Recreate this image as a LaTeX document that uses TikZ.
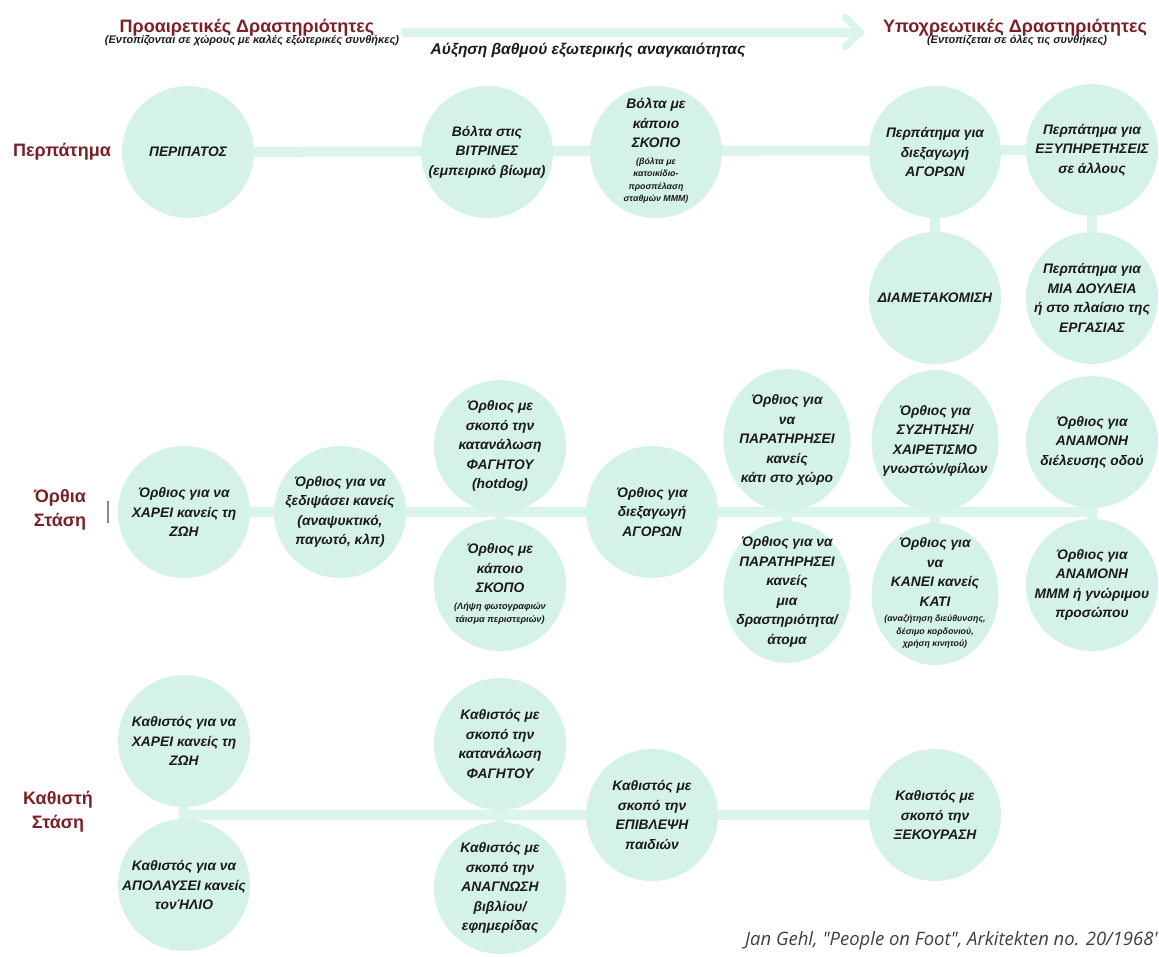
\documentclass[tikz,border=0pt]{standalone}
\usepackage{fontspec}
\setmainfont{Liberation Sans}
\newfontfamily\footfont{Open Sans}
\usetikzlibrary{shapes.geometric}
\definecolor{circ}{HTML}{D5F2EA}
\definecolor{conn}{HTML}{DCF4EE}
\definecolor{titlered}{HTML}{7B2027}
\definecolor{ink}{HTML}{1A1A1A}
\newcommand{\ctxt}[1]{\begin{tabular}[t]{@{}c@{}}#1\end{tabular}}
\newcommand{\smallfs}{\fontsize{8.8}{12.5}\selectfont}
\pgfdeclarelayer{bg}
\pgfsetlayers{bg,main}
\begin{document}
\begin{tikzpicture}[x=1pt,y=-1pt,
  bubble/.style={ellipse, fill=circ, minimum width=132pt, minimum height=132pt,
    inner sep=-20pt, align=center, text=ink,
    font=\fontsize{13.8}{19.5}\selectfont\bfseries\itshape},
  tall/.style={minimum width=127pt, minimum height=142pt},
  link/.style={draw=conn, line width=10pt},
  arrowline/.style={draw=conn, line width=9pt, line cap=round, line join=round},
  bigtitle/.style={anchor=base, text=titlered, font=\fontsize{18}{20}\selectfont\bfseries},
  subtitle/.style={anchor=base, text=ink, font=\fontsize{11}{12}\selectfont\bfseries\itshape},
  rowlabel/.style={align=center, text=titlered, font=\fontsize{18}{24}\selectfont\bfseries}]
\useasboundingbox (0,0) rectangle (1159,956);
\begin{pgfonlayer}{bg}
  \fill[white] (0,0) rectangle (1159,956);
\end{pgfonlayer}

% headers
\node[bigtitle] (t1) at (247,32) {Προαιρετικές Δραστηριότητες};
\node[subtitle] (s1) at (252,43) {(Εντοπίζονται σε χώρους με καλές εξωτερικές συνθήκες)};
\node[bigtitle] (t2) at (1015,32) {Υποχρεωτικές Δραστηριότητες};
\node[subtitle] (s2) at (1017,43) {(Εντοπίζεται σε όλες τις συνθήκες)};
\node[anchor=base, text=ink, font=\fontsize{15.5}{17}\selectfont\bfseries\itshape] (ax) at (588,54) {Αύξηση βαθμού εξωτερικής αναγκαιότητας};
\coordinate (ar1) at (405,32);
\coordinate (ar2) at (860,32);
\coordinate (ch1) at (845,17);
\coordinate (ch2) at (845,47);
\draw[arrowline] (ar1) -- (ar2);
\draw[arrowline, line width=7pt] (ch1) -- (ar2) -- (ch2);

% row labels
\node[rowlabel] (l1) at (62,152) {Περπάτημα};
\node[rowlabel] (l2) at (60,510) {Όρθια\\Στάση};
\node[rowlabel] (l3) at (58,812) {Καθιστή\\Στάση};
\draw[black!45, line width=1.5pt] (108,501) -- (108,523);

% row 1
\node[bubble] (r1a) at (188,152) {ΠΕΡΙΠΑΤΟΣ};
\node[bubble] (r1b) at (487,152) {Βόλτα στις\\ΒΙΤΡΙΝΕΣ\\(εμπειρικό βίωμα)};
\node[bubble] (r1c) at (656,152) {Βόλτα με\\κάποιο\\ΣΚΟΠΟ\\[-3pt]{\smallfs\ctxt{(βόλτα με\\κατοικίδιο-\\προσπέλαση\\σταθμών ΜΜΜ)}}};
\node[bubble] (r1d) at (935,152) {Περπάτημα για\\διεξαγωγή\\ΑΓΟΡΩΝ};
\node[bubble] (r1e) at (1092,150) {Περπάτημα για\\ΕΞΥΠΗΡΕΤΗΣΕΙΣ\\σε άλλους};
\node[bubble] (r1f) at (935,298) {ΔΙΑΜΕΤΑΚΟΜΙΣΗ};
\node[bubble] (r1g) at (1092,298) {Περπάτημα για\\ΜΙΑ ΔΟΥΛΕΙΑ\\ή στο πλαίσιο της\\ΕΡΓΑΣΙΑΣ};

% row 2
\node[bubble] (r2a) at (184,512) {Όρθιος για να\\ΧΑΡΕΙ κανείς τη\\ΖΩΗ};
\node[bubble] (r2b) at (340,512) {Όρθιος για να\\ξεδιψάσει κανείς\\(αναψυκτικό,\\παγωτό, κλπ)};
\node[bubble] (r2c) at (500,446) {Όρθιος με\\σκοπό την\\κατανάλωση\\ΦΑΓΗΤΟΥ\\(hotdog)};
\node[bubble] (r2d) at (500,585) {Όρθιος με\\κάποιο\\ΣΚΟΠΟ\\[-3pt]{\fontsize{9.2}{13}\selectfont\ctxt{(Λήψη φωτογραφιών\\τάισμα περιστεριών)}}};
\node[bubble] (r2e) at (652,512) {Όρθιος για\\διεξαγωγή\\ΑΓΟΡΩΝ};
\node[bubble, tall] (r2f) at (787,440) {Όρθιος για\\να\\ΠΑΡΑΤΗΡΗΣΕΙ\\κανείς\\κάτι στο χώρο};
\node[bubble, tall] (r2g) at (787,592) {Όρθιος για να\\ΠΑΡΑΤΗΡΗΣΕΙ\\κανείς\\μια\\δραστηριότητα/\\άτομα};
\node[bubble, tall] (r2h) at (935,441) {Όρθιος για\\ΣΥΖΗΤΗΣΗ/\\ΧΑΙΡΕΤΙΣΜΟ\\γνωστών/φίλων};
\node[bubble, tall] (r2i) at (935,594) {Όρθιος για\\να\\ΚΑΝΕΙ κανείς\\ΚΑΤΙ\\[-4pt]{\smallfs\ctxt{(αναζήτηση διεύθυνσης,\\δέσιμο κορδονιού,\\χρήση κινητού)}}};
\node[bubble] (r2j) at (1092,442) {Όρθιος για\\ΑΝΑΜΟΝΗ\\διέλευσης οδού};
\node[bubble] (r2k) at (1092,585) {Όρθιος για\\ΑΝΑΜΟΝΗ\\ΜΜΜ ή γνώριμου\\προσώπου};

% row 3
\node[bubble] (r3a) at (184,741) {Καθιστός για να\\ΧΑΡΕΙ κανείς τη\\ΖΩΗ};
\node[bubble] (r3b) at (184,885) {Καθιστός για να\\ΑΠΟΛΑΥΣΕΙ κανείς\\τονΉΛΙΟ};
\node[bubble] (r3c) at (500,744) {Καθιστός με\\σκοπό την\\κατανάλωση\\ΦΑΓΗΤΟΥ};
\node[bubble] (r3d) at (500,888) {Καθιστός με\\σκοπό την\\ΑΝΑΓΝΩΣΗ\\βιβλίου/\\εφημερίδας};
\node[bubble] (r3e) at (652,815) {Καθιστός με\\σκοπό την\\ΕΠΙΒΛΕΨΗ\\παιδιών};
\node[bubble] (r3f) at (935,815) {Καθιστός με\\σκοπό την\\ΞΕΚΟΥΡΑΣΗ};

% footer
\node[anchor=base east, text=black!75, font=\footfont\itshape\fontsize{18.5}{20}\selectfont] (foot) at (1161,945) {Jan Gehl, "People on Foot", Arkitekten no. 20/1968'};

% connectors
\begin{pgfonlayer}{bg}
  \draw[link] (r1a.center) -- (r1e.center);
  \draw[link] (r1d.center) -- (r1f.center);
  \draw[link] (r1e.center) -- (r1g.center);
  \draw[link] (r2a.center) -- (r2j.center |- r2e.center);
  \draw[link] (r2c.center) -- (r2d.center);
  \draw[link] (r2f.center) -- (r2g.center);
  \draw[link] (r2h.center) -- (r2i.center);
  \draw[link] (r2j.center) -- (r2k.center);
  \draw[link] (r3a.center |- r3e.center) -- (r3f.center);
  \draw[link] (r3a.center) -- (r3b.center);
  \draw[link] (r3c.center) -- (r3d.center);
\end{pgfonlayer}
\end{tikzpicture}
\end{document}
